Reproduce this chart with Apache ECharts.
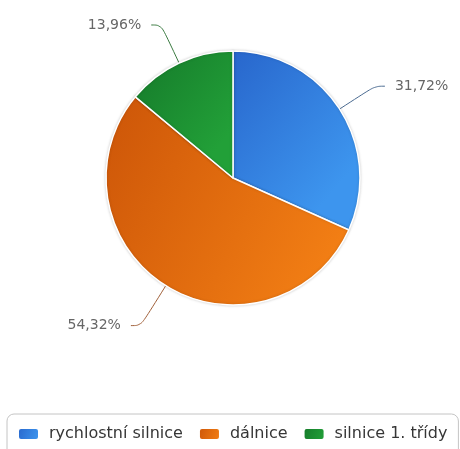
<!DOCTYPE html>
<html>
<head>
<meta charset="utf-8">
<script src="https://cdn.jsdelivr.net/npm/echarts@6/dist/echarts.min.js"></script>
<style>
  html, body { margin: 0; padding: 0; background: #fff; }
  #chart { width: 460px; height: 449px; }
</style>
</head>
<body>
<div id="chart"></div>
<script>
// Share of road length by road class (%)
const categories = ['rychlostní silnice', 'dálnice', 'silnice 1. třídy'];
const shares = [31.72, 54.32, 13.96];

// Per-slice gradient stops (dark -> light), leader line colours and lengths
const gradStops = [
  ['#2866cc', '#3d95ee'],
  ['#cc5508', '#f27e14'],
  ['#15792a', '#22a038']
];
const lineColors = ['#4a6a90', '#a0603a', '#3a7a40'];
const lineLengths = [42, 47, 42];

const chart = echarts.init(document.getElementById('chart'), null, { renderer: 'canvas' });

const data = categories.map((name, i) => ({
  name: name,
  value: shares[i],
  itemStyle: {
    color: new echarts.graphic.LinearGradient(0, 0, 1, 0.6, [
      { offset: 0, color: gradStops[i][0] },
      { offset: 1, color: gradStops[i][1] }
    ])
  },
  labelLine: { length: lineLengths[i], lineStyle: { color: lineColors[i] } }
}));

chart.setOption({
  animation: false,
  color: gradStops.map(g => g[1]),
  legend: {
    top: 414,
    left: 7,
    itemWidth: 21,
    itemHeight: 12,
    itemGap: 15,
    icon: 'roundRect',
    padding: [12, 11, 20, 10],
    borderColor: '#c4c4c4',
    borderWidth: 1,
    borderRadius: 7,
    textStyle: { fontFamily: 'DejaVu Sans', fontSize: 16, color: '#363636', padding: [0, 0, 0, 5] },
    data: categories
  },
  series: [{
    type: 'pie',
    center: [233, 178],
    radius: 127,
    startAngle: 90,
    clockwise: true,
    itemStyle: {
      borderColor: '#ffffff',
      borderWidth: 1.5,
      shadowBlur: 3,
      shadowColor: 'rgba(0,0,0,0.18)'
    },
    label: {
      show: true,
      fontFamily: 'DejaVu Sans',
      fontSize: 14,
      color: '#666666',
      distanceToLabelLine: 10,
      formatter: p => p.value.toFixed(2).replace('.', ',') + '%'
    },
    labelLine: {
      show: true,
      length: 42,
      length2: 10,
      smooth: 0.4,
      lineStyle: { width: 1 }
    },
    emphasis: { disabled: true },
    data: data
  }]
});
</script>
</body>
</html>
